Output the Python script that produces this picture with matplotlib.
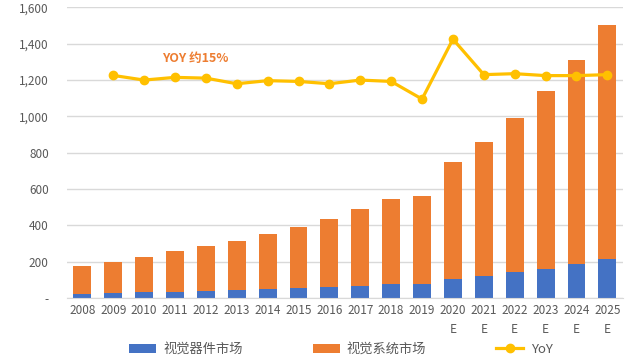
import numpy as np
import matplotlib
matplotlib.use('Agg')
import matplotlib.pyplot as plt
from matplotlib.ticker import FuncFormatter

plt.rcParams['font.family'] = ['Noto Sans CJK SC', 'DejaVu Sans']

years = ['2008', '2009', '2010', '2011', '2012', '2013', '2014', '2015', '2016',
         '2017', '2018', '2019', '2020\nE', '2021\nE', '2022\nE', '2023\nE', '2024\nE', '2025\nE']
device = [24, 26, 31, 35, 40, 44, 51, 57, 62, 68, 79, 79, 106, 119, 141, 161, 185, 216]
total = [176, 198, 224, 257, 288, 315, 354, 392, 436, 489, 544, 561, 747, 859, 992, 1139, 1308, 1502]
system = [t - d for t, d in zip(total, device)]
# YoY in %, first year has no value
yoy = [np.nan, 14.8, 12.4, 13.8, 13.4, 10.5, 12.1, 11.7, 10.5, 12.4, 11.7, 2.6,
       33.5, 15.2, 15.7, 14.7, 14.7, 15.2]

blue = '#4472C4'
orange = '#ED7D31'
yellow = '#FFC000'
grey = '#595959'

fig = plt.figure(figsize=(6.31, 3.59), dpi=100)
ax = fig.add_axes([0.106, 0.170, 0.881, 0.810])
x = np.arange(len(years))

b1 = ax.bar(x, device, width=0.58, color=blue, label='视觉器件市场', zorder=2)
b2 = ax.bar(x, system, width=0.58, bottom=device, color=orange, label='视觉系统市场', zorder=2)

ax.set_ylim(0, 1600)
ax.set_xlim(-0.5, len(years) - 0.5)
ax.set_yticks(range(0, 1601, 200))
ax.yaxis.set_major_formatter(FuncFormatter(lambda v, p: '-' if v == 0 else f'{int(v):,}'))
ax.set_xticks(x)
ax.set_xticklabels(years, linespacing=1.6)
ax.tick_params(axis='both', length=0, labelsize=8.5, colors=grey)
ax.tick_params(axis='y', pad=13)
ax.tick_params(axis='x', pad=4)
ax.grid(axis='y', color='#D9D9D9', linewidth=1, zorder=0)
for s in ['top', 'right', 'left']:
    ax.spines[s].set_visible(False)
ax.spines['bottom'].set_color('#D9D9D9')

ax2 = ax.twinx()
ln, = ax2.plot(x, yoy, color=yellow, linewidth=2.3, marker='o', markersize=6, label='YoY', zorder=3)
ax2.set_ylim(-100, 50)
ax2.axis('off')

ax.text(3.65, 1320, 'YOY 约15%', color=orange, fontsize=9, fontweight='bold',
        ha='center', va='center')

fig.legend([b1, b2, ln], ['视觉器件市场', '视觉系统市场', 'YoY'], loc='lower center',
           bbox_to_anchor=(0.54, -0.025), ncol=3, frameon=False, fontsize=9.5,
           labelcolor=grey, handlelength=2.05, columnspacing=5.3, handletextpad=0.55)

fig.savefig('out.png', dpi=100)
